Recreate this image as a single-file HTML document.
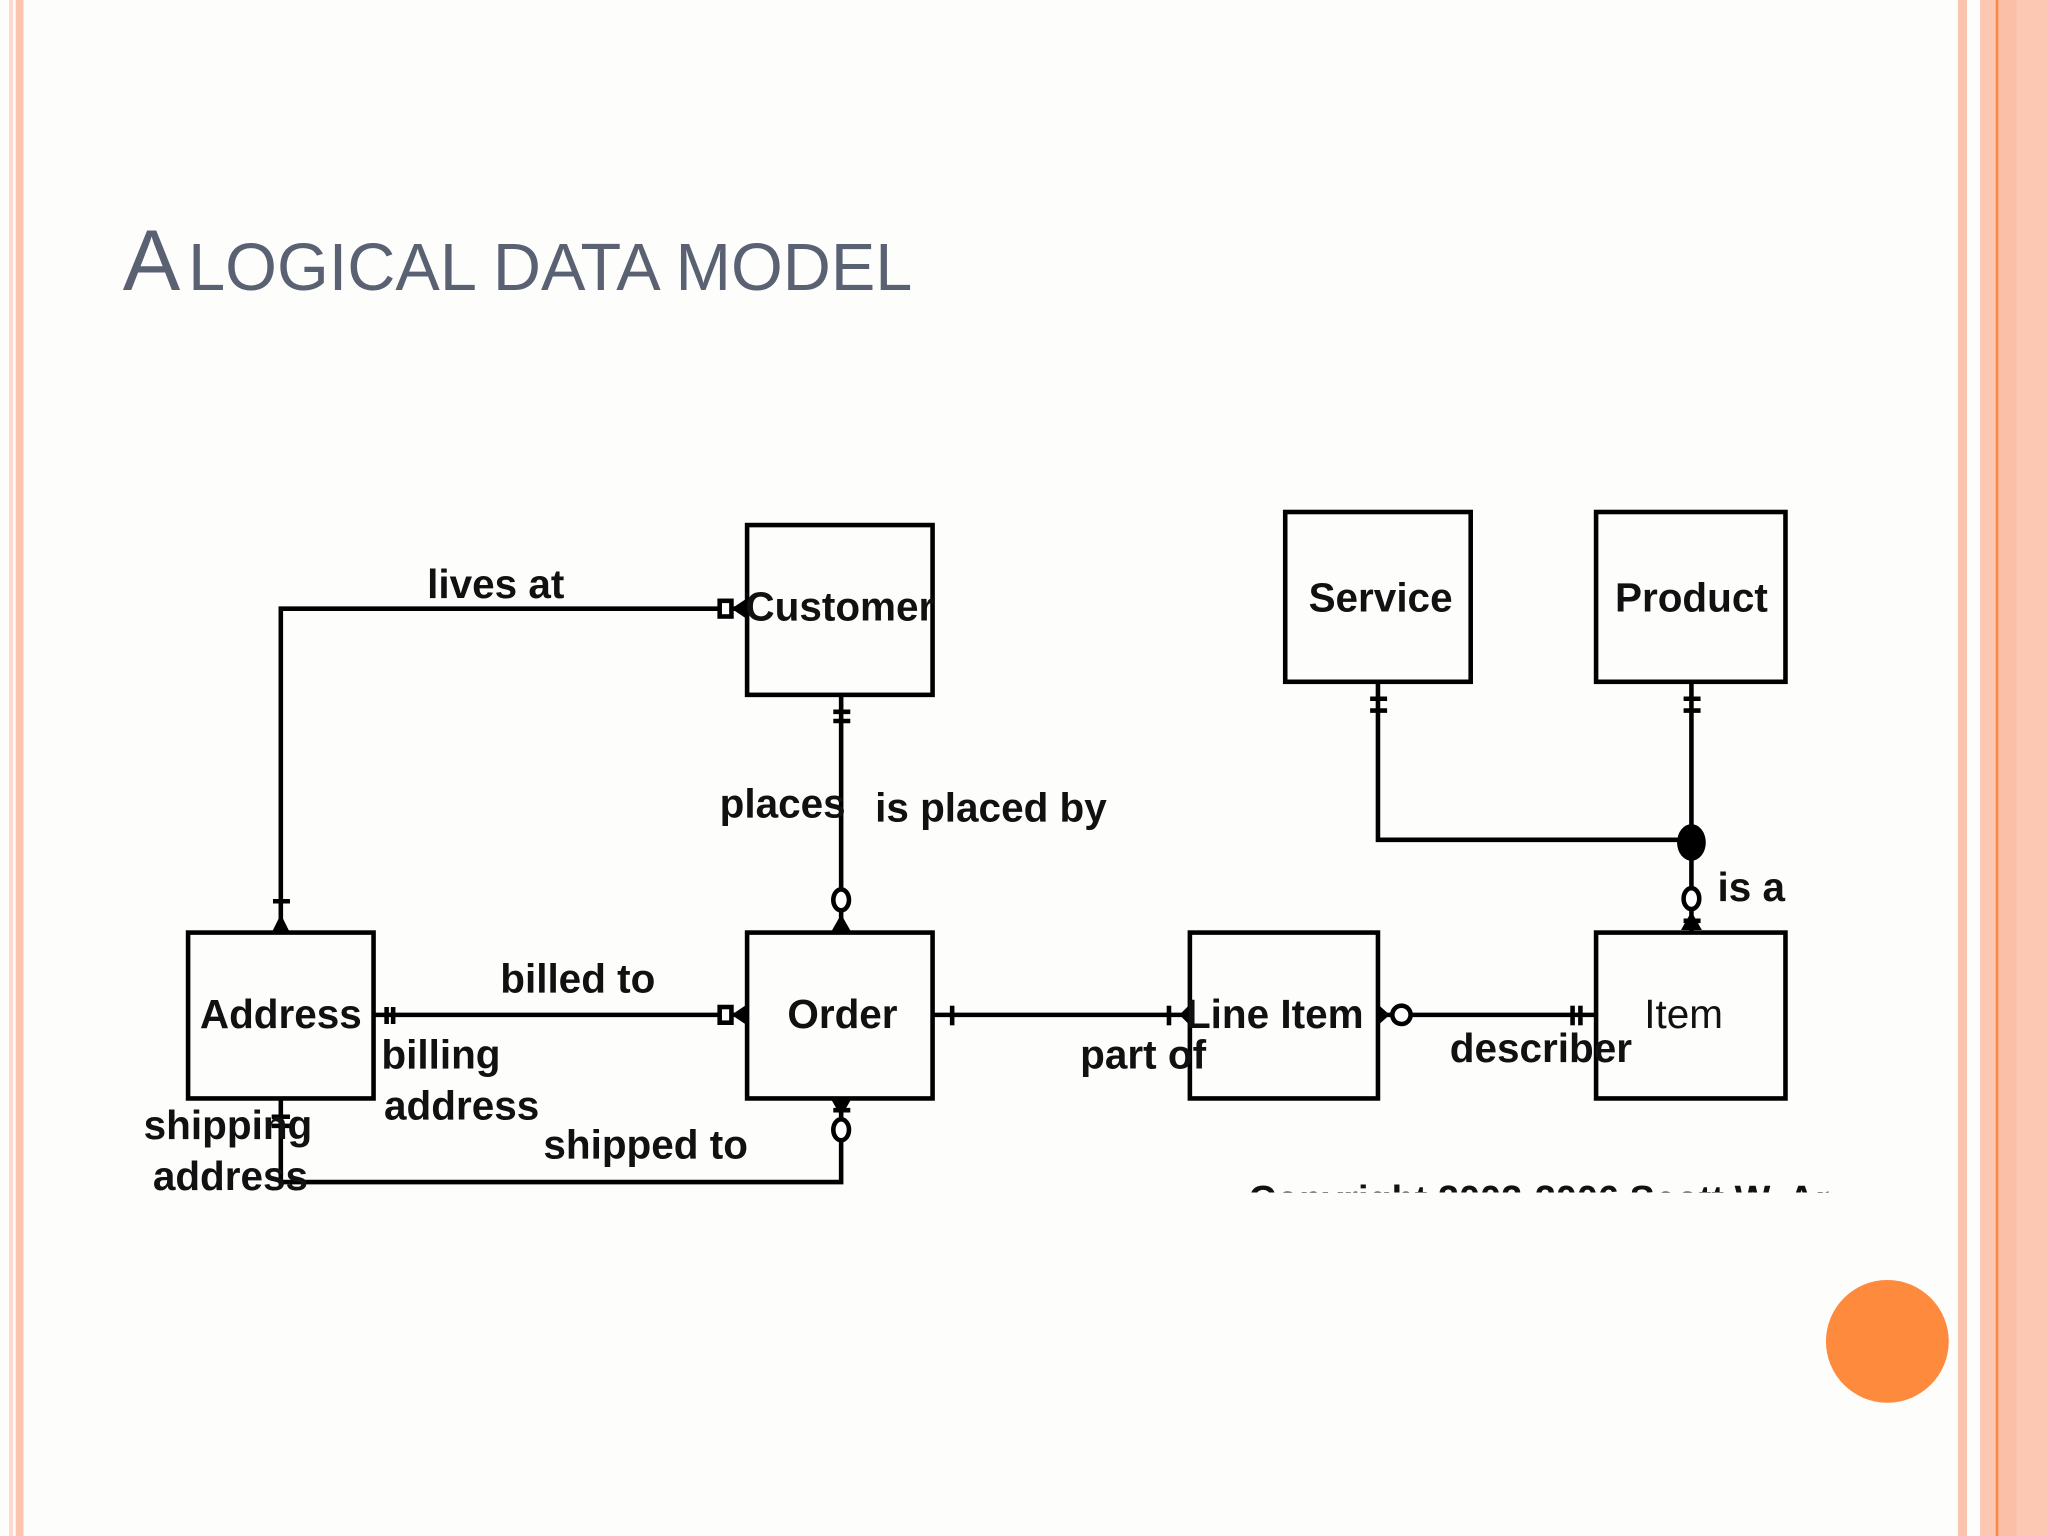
<!DOCTYPE html>
<html><head><meta charset="utf-8"><style>
html,body{margin:0;padding:0;background:#fdfefd;}
svg{display:block}
</style></head><body>
<svg width="2048" height="1536" viewBox="0 0 1568 1176" preserveAspectRatio="none" xmlns="http://www.w3.org/2000/svg">
<rect width="1568" height="1176" fill="#fdfefc"/>
<!-- borders -->
<rect x="7" y="0" width="3" height="1176" fill="#fcd9cc"/>
<rect x="12" y="0" width="6" height="1176" fill="#fbc4ae"/>
<rect x="1499" y="0" width="7" height="1176" fill="#fbc4ae"/>
<rect x="1516" y="0" width="52" height="1176" fill="#fcc8b3"/>
<rect x="1530" y="0" width="14" height="1176" fill="#fbbea6"/>
<rect x="1528" y="0" width="2" height="1176" fill="#f6894a"/>
<!-- title -->
<text x="94" y="222" fill="#5a6173" font-family="Liberation Sans, sans-serif"><tspan font-size="66">A</tspan><tspan font-size="51" dx="6">LOGICAL DATA MODEL</tspan></text>
<circle cx="1445" cy="1027" r="47" fill="#fd8a3d"/>
<g stroke="#000" stroke-width="3.5" fill="none">
<rect x="572" y="402" width="142" height="130"/>
<rect x="984" y="392" width="142" height="130"/>
<rect x="1222" y="392" width="145" height="130"/>
<rect x="144" y="714" width="142" height="127"/>
<rect x="572" y="714" width="142" height="127"/>
<rect x="911" y="714" width="144" height="127"/>
<rect x="1222" y="714" width="145" height="127"/>
<polyline points="215,714 215,466 572,466"/>
<line x1="644" y1="532" x2="644" y2="714"/>
<line x1="286" y1="777" x2="572" y2="777"/>
<polyline points="215,841 215,905 644,905 644,841"/>
<line x1="714" y1="777" x2="911" y2="777"/>
<line x1="1055" y1="777" x2="1222" y2="777"/>
<polyline points="1055,522 1055,643 1295,643"/>
<line x1="1295" y1="522" x2="1295" y2="714"/>
<!-- markers -->
<line x1="638" y1="545" x2="651" y2="545"/><line x1="638" y1="552" x2="651" y2="552"/>
<line x1="1049" y1="535" x2="1062" y2="535"/><line x1="1049" y1="544" x2="1062" y2="544"/>
<line x1="1289" y1="535" x2="1302" y2="535"/><line x1="1289" y1="544" x2="1302" y2="544"/>
<line x1="209" y1="690" x2="222" y2="690"/>
<line x1="208" y1="855" x2="222" y2="855"/><line x1="208" y1="862" x2="222" y2="862"/>
<line x1="296" y1="771" x2="296" y2="784"/><line x1="301" y1="771" x2="301" y2="784"/>
<line x1="729" y1="770" x2="729" y2="785"/>
<line x1="895" y1="770" x2="895" y2="785"/>
<line x1="1204" y1="770" x2="1204" y2="785"/><line x1="1210" y1="770" x2="1210" y2="785"/>
<line x1="1289" y1="705" x2="1302" y2="705"/>
<line x1="638" y1="850" x2="651" y2="850"/>
</g>
<g fill="#fff" stroke="#000" stroke-width="3.5">
<rect x="551" y="460" width="9" height="12"/>
<rect x="551" y="771" width="9" height="12"/>
<ellipse cx="644" cy="689" rx="6" ry="8"/>
<ellipse cx="644" cy="865" rx="6" ry="8"/>
<ellipse cx="1295" cy="688" rx="6" ry="8"/>
<ellipse cx="1073" cy="777" rx="7" ry="7"/>
</g>
<g fill="#000">
<polygon points="560,466 572,458 572,474"/>
<polygon points="560,777 572,769 572,785"/>
<polygon points="644,700 636,714 652,714"/>
<polygon points="644,855 636,841 652,841"/>
<polygon points="1295,698 1287,712 1303,712"/>
<polygon points="215,700 208,714 222,714"/>
<polygon points="1064,777 1055,769 1055,785"/>
<polygon points="903,777 911,769 911,785"/>
<ellipse cx="1295" cy="645" rx="11" ry="14"/>
</g>
<g font-family="Liberation Sans Narrow, Liberation Sans, sans-serif" font-weight="bold" font-size="31" fill="#111">
<text x="643" y="475" text-anchor="middle">Customer</text>
<text x="1057" y="468" text-anchor="middle">Service</text>
<text x="1295" y="468" text-anchor="middle">Product</text>
<text x="215" y="787" text-anchor="middle">Address</text>
<text x="645" y="787" text-anchor="middle">Order</text>
<text x="976" y="787" text-anchor="middle">Line Item</text>
<text x="1289" y="787" text-anchor="middle" font-weight="normal">Item</text>
<text x="327" y="458">lives at</text>
<text x="551" y="626">places</text>
<text x="670" y="629">is placed by</text>
<text x="1315" y="690">is a</text>
<text x="383" y="760">billed to</text>
<text x="292" y="818">billing</text>
<text x="294" y="857">address</text>
<text x="110" y="872">shipping</text>
<text x="117" y="911">address</text>
<text x="416" y="887">shipped to</text>
<text x="827" y="818">part of</text>
<text x="1110" y="813">describer</text>
</g>
<clipPath id="c"><rect x="900" y="880" width="500" height="33"/></clipPath>
<text x="956" y="928" clip-path="url(#c)" font-family="Liberation Sans Narrow, Liberation Sans, sans-serif" font-weight="bold" font-size="29" fill="#111">Copyright 2002-2006 Scott W. Ambler</text>
</svg>
</body></html>
